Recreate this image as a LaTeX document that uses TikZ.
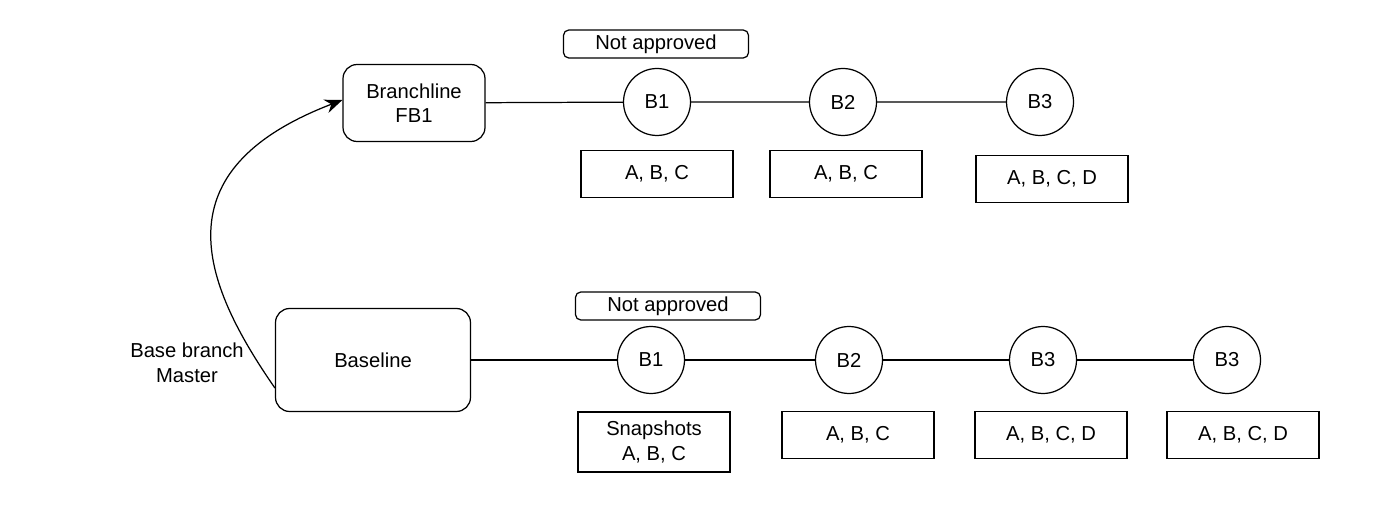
\documentclass[tikz,border=0pt]{standalone}
\usepackage{fontspec}
\setmainfont{Liberation Sans}
\usetikzlibrary{positioning}
\usetikzlibrary{arrows.meta}
\tikzset{
  box/.style={draw, rounded corners=8pt, line width=0.7pt, align=center, minimum width=3.9cm, minimum height=2.06cm},
  commit/.style={draw, circle, line width=0.7pt, minimum size=1.34cm, inner sep=0pt},
  snap/.style={draw, line width=0.7pt, minimum width=3.04cm, minimum height=0.94cm, align=center},
  tag/.style={draw, rounded corners=3pt, line width=0.7pt, minimum width=3.7cm, minimum height=0.56cm, inner sep=0pt},
  link/.style={draw, line width=0.7pt}
}
\begin{document}
\begin{tikzpicture}[x=0.02cm, y=-0.02cm, font=\fontsize{11.5}{14}\selectfont]
  \useasboundingbox (0,0) rectangle (1382,526);
  % branch line
  \node[box, minimum width=2.84cm, minimum height=1.54cm] at (414,103) (fb1) {Branchline\\FB1};
  \node[commit] at (657,102) (fb1b1) {B1};
  \node[commit] at (843,102) (fb1b2) {B2};
  \node[commit] at (1040,102) (fb1b3) {B3};
  \node[tag] at (656,44) (fb1na) {Not approved};
  \node[snap] at (657,174) (fb1s1) {A, B, C};
  \node[snap] at (846,174) (fb1s2) {A, B, C};
  \node[snap] at (1052,179) (fb1s3) {A, B, C, D};
  \draw[link] (fb1) -- (fb1b1) -- (fb1b2) -- (fb1b3);
  % baseline
  \node[box] at (373,360) (base) {Baseline};
  \node[align=center] at (187,363) (master) {Base branch\\Master};
  \node[commit] at (651,360) (bb1) {B1};
  \node[commit] at (849,360) (bb2) {B2};
  \node[commit] at (1043,360) (bb3) {B3};
  \node[commit] at (1227,360) (bb4) {B3};
  \node[tag] at (668,306) (bna) {Not approved};
  \node[snap, minimum height=1.2cm] at (654,442) (bs1) {Snapshots\\A, B, C};
  \node[snap] at (858,435) (bs2) {A, B, C};
  \node[snap] at (1051,435) (bs3) {A, B, C, D};
  \node[snap] at (1243,435) (bs4) {A, B, C, D};
  \draw[link] (base) -- (bb1) -- (bb2) -- (bb3) -- (bb4);
  % branching
  \draw[link, -{Stealth[length=10pt, width=8pt]}] (base.west |- 0,388) .. controls (200,280) and (160,170) .. (fb1.west |- 0,100);
\end{tikzpicture}
\end{document}
